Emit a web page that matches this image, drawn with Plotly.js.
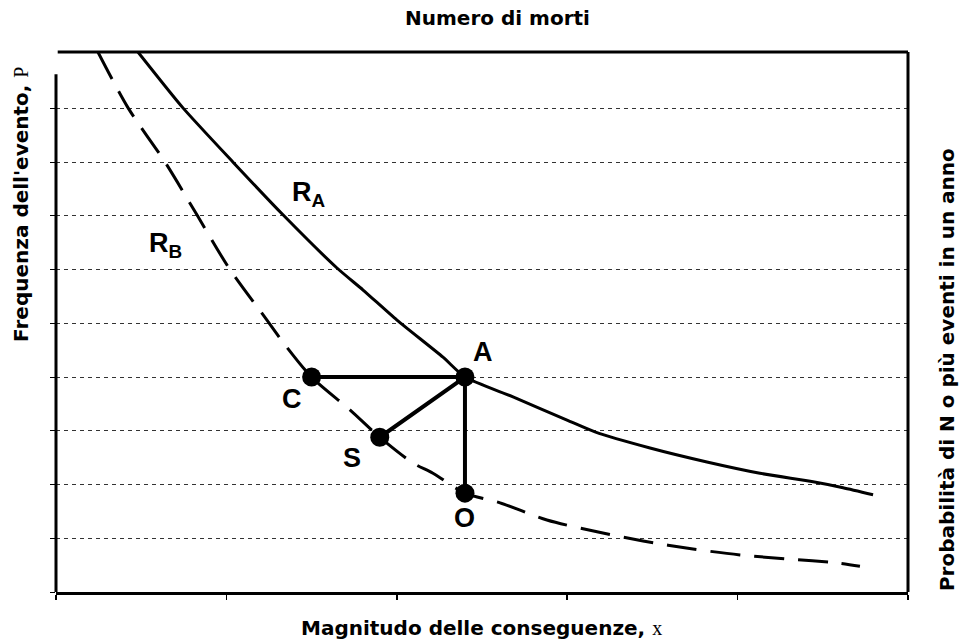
<!DOCTYPE html>
<html>
<head>
<meta charset="utf-8">
<script src="https://cdn.plot.ly/plotly-3.0.1.min.js"></script>
<style>html,body{margin:0;padding:0;background:#fff;}#chart{width:959px;height:642px;}</style>
</head>
<body>
<div id="chart"></div>
<script>
// Curve R_A (solid)
var raX = [0.481, 0.745, 1.039, 1.332, 1.649, 1.802, 2.001, 2.271, 2.40, 2.682, 2.999, 3.163, 3.486, 3.820, 4.131, 4.443, 4.619, 4.795];
var raY = [10.05, 9.01, 8.00, 7.02, 6.03, 5.62, 5.06, 4.37, 4.00, 3.63, 3.20, 2.98, 2.68, 2.42, 2.21, 2.05, 1.94, 1.81];
// Curve R_B (dashed)
var rbX = [0.246, 0.423, 0.640, 0.827, 1.015, 1.238, 1.332, 1.50, 1.725, 1.90, 2.095, 2.212, 2.40, 2.606, 2.881, 3.175, 3.445, 3.738, 4.014, 4.308, 4.589, 4.718];
var rbY = [10.05, 9.01, 8.00, 7.02, 6.03, 5.06, 4.65, 4.00, 3.39, 2.88, 2.40, 2.21, 1.84, 1.66, 1.34, 1.12, 0.95, 0.80, 0.69, 0.61, 0.54, 0.48];
// Points
var ptNames = ["A", "C", "S", "O"];
var ptX = [2.40, 1.50, 1.90, 2.40];
var ptY = [4.00, 4.00, 2.88, 1.84];
// Connecting segments C-A-S and A-O
var segX = [1.50, 2.40, 1.90, null, 2.40, 2.40];
var segY = [4.00, 4.00, 2.88, null, 4.00, 1.84];
// Ticks
var xTicks = [0, 1, 2, 3, 4, 5];
var yTicks = [0, 1, 2, 3, 4, 5, 6, 7, 8, 9];

var FONT = "Arial, 'Liberation Sans', sans-serif";
var TFONT = "'DejaVu Sans', Arial, sans-serif";

var traces = [
  {x: raX, y: raY, mode: 'lines', line: {color: '#000', width: 3, shape: 'spline', smoothing: 0.6}, hoverinfo: 'skip'},
  {x: rbX, y: rbY, mode: 'lines', line: {color: '#000', width: 3, shape: 'spline', smoothing: 0.8, dash: '30px,14px'}, hoverinfo: 'skip'},
  {x: segX, y: segY, mode: 'lines', line: {color: '#000', width: 4}, hoverinfo: 'skip'},
  {x: ptX, y: ptY, text: ptNames, mode: 'markers', marker: {color: '#000', size: 19}, hoverinfo: 'skip'}
];

function lab(t, x, y, xa) {
  return {text: t, x: x, y: y, xref: 'x', yref: 'y', showarrow: false, xanchor: xa || 'center', yanchor: 'middle',
          font: {family: FONT, size: 27, color: '#000', weight: 'bold'}};
}
function ttl(t, x, y, ang) {
  return {text: t, xref: 'paper', yref: 'paper', x: x, y: y, showarrow: false, textangle: ang || 0, xanchor: 'center', yanchor: 'middle',
          font: {family: TFONT, size: 20, color: '#000', weight: 'bold'}};
}
var SER = '<span style="font-family:\'Liberation Serif\',serif;font-weight:normal">';

var layout = {
  width: 959, height: 642,
  margin: {l: 56, r: 51, t: 52, b: 50},
  paper_bgcolor: '#fff', plot_bgcolor: '#fff',
  showlegend: false,
  xaxis: {range: [0, 5], tickvals: xTicks, showticklabels: false, ticks: 'outside', ticklen: 5, tickwidth: 1.5, tickcolor: '#000',
          showgrid: false, zeroline: false, showline: true, linecolor: '#000', linewidth: 3, fixedrange: true},
  yaxis: {range: [0, 10.05], tickvals: yTicks, showticklabels: false, ticks: 'outside', ticklen: 5, tickwidth: 1, tickcolor: '#000',
          showgrid: true, gridcolor: '#333', gridwidth: 1, griddash: '4px,4px', zeroline: false, showline: false, fixedrange: true},
  shapes: [
    {type: 'line', xref: 'paper', yref: 'paper', x0: 0.002, x1: 1, y0: 1, y1: 1, line: {color: '#000', width: 3}},
    {type: 'line', xref: 'paper', yref: 'paper', x0: 1, x1: 1, y0: 0, y1: 1, line: {color: '#000', width: 3}},
    {type: 'line', xref: 'paper', yref: 'paper', x0: 0, x1: 0, y0: 0, y1: 0.959, line: {color: '#000', width: 3}}
  ],
  annotations: [
    ttl('Numero di morti', 0.518, 1.063),
    ttl('Magnitudo delle conseguenze, ' + SER + 'x</span>', 0.499, -0.067),
    ttl('Frequenza dell\'evento, ' + SER + 'P</span>', -0.041, 0.717, -90),
    ttl('Probabilità di N o più eventi in un anno', 1.0458, 0.411, -90),
    lab('R<sub>A</sub>', 1.373, 7.40, 'left'),
    lab('R<sub>B</sub>', 0.534, 6.45, 'left'),
    lab('A', 2.506, 4.47),
    lab('C', 1.385, 3.59),
    lab('S', 1.737, 2.49),
    lab('O', 2.400, 1.38)
  ]
};

Plotly.newPlot('chart', traces, layout, {displayModeBar: false, staticPlot: true});
</script>
</body>
</html>
